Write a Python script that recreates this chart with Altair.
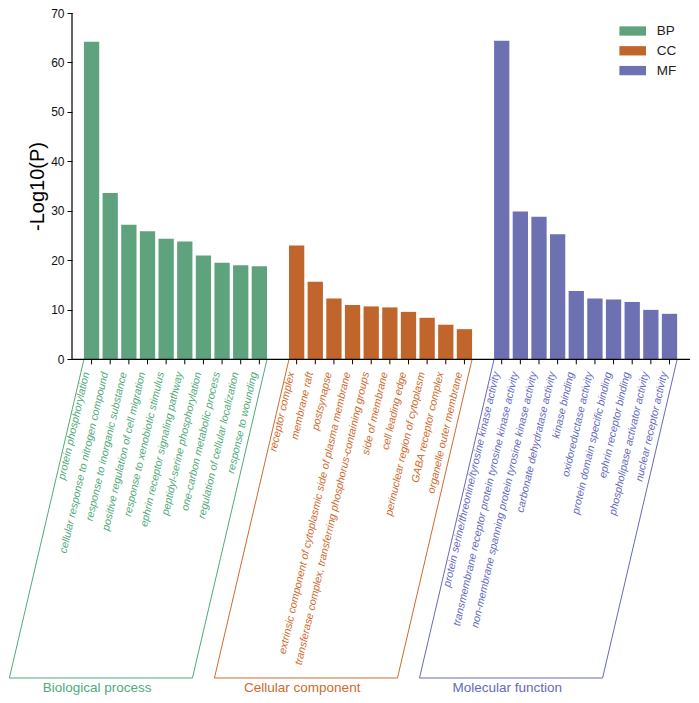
import altair as alt
import pandas as pd

FONT = "Liberation Sans"

groups = ["BP", "CC", "MF"]
group_names = ["Biological process", "Cellular component", "Molecular function"]
bar_colors = ["#5FA37E", "#C0652B", "#6D71B1"]
text_colors = ["#4FAA7B", "#CF6A2E", "#6569BF"]
y_ticks = [0, 10, 20, 30, 40, 50, 60, 70]

bp_terms = [
    "protein phosphorylation",
    "cellular response to nitrogen compound",
    "response to inorganic substance",
    "positive regulation of cell migration",
    "response to xenobiotic stimulus",
    "ephrin receptor signaling pathway",
    "peptidyl-serine phosphorylation",
    "one-carbon metabolic process",
    "regulation of cellular localization",
    "response to wounding",
]
bp_values = [64.2, 33.6, 27.2, 25.9, 24.4, 23.8, 21.0, 19.5, 19.0, 18.8]

cc_terms = [
    "receptor complex",
    "membrane raft",
    "postsynapse",
    "extrinsic component of cytoplasmic side of plasma membrane",
    "transferase complex, transferring phosphorus-containing groups",
    "side of membrane",
    "cell leading edge",
    "perinuclear region of cytoplasm",
    "GABA receptor complex",
    "organelle outer membrane",
]
cc_values = [23.0, 15.7, 12.3, 11.0, 10.7, 10.5, 9.6, 8.4, 7.0, 6.1]

mf_terms = [
    "protein serine/threonine/tyrosine kinase activity",
    "transmembrane receptor protein tyrosine kinase activity",
    "non-membrane spanning protein tyrosine kinase activity",
    "carbonate dehydratase activity",
    "kinase binding",
    "oxidoreductase activity",
    "protein domain specific binding",
    "ephrin receptor binding",
    "phospholipase activator activity",
    "nuclear receptor activity",
]
mf_values = [64.4, 29.9, 28.8, 25.3, 13.8, 12.3, 12.1, 11.6, 10.0, 9.2]

# layout constants
HALF = 0.41      # half bar width in slot units
SLANT = 4.0      # horizontal slant of the label boxes in slot units
YMIN, YMAX = -64.4, 70
XMIN, XMAX = -1.05, 32.1
LABEL_DX = -0.27
LABEL_Y = -2.6
TICK_Y = -1.0

rows, spans = [], []
slot = 0
for g, terms, vals, tc in zip(groups, [bp_terms, cc_terms, mf_terms],
                              [bp_values, cc_values, mf_values], text_colors):
    first = slot
    for t, v in zip(terms, vals):
        rows.append(dict(group=g, term=t, value=v, pos=slot, tcolor=tc,
                         x1=slot - HALF, x2=slot + HALF, zero=0,
                         lx=slot + LABEL_DX, ly=LABEL_Y, ty=TICK_Y))
        slot += 1
    spans.append((first, slot - 1))
    slot += 1
df = pd.DataFrame(rows)

box_rows, name_rows = [], []
for g, name, tc, (a, b) in zip(groups, group_names, text_colors, spans):
    pts = [(a - HALF, 0), (a - HALF - SLANT, YMIN), (b + HALF - SLANT, YMIN), (b + HALF, 0)]
    for i, (px, py) in enumerate(pts):
        box_rows.append(dict(group=g, order=i, bx=px, by=py, lcolor=tc))
    name_rows.append(dict(name=name, cx=(a + b) / 2 - SLANT - 0.2, cy=YMIN, tcolor=tc))
box_df = pd.DataFrame(box_rows)
name_df = pd.DataFrame(name_rows)

axis_df = pd.DataFrame([
    dict(ax1=XMIN, ax2=XMIN, ay1=0, ay2=YMAX),
    dict(ax1=XMIN, ax2=XMAX, ay1=0, ay2=0),
])

xs = alt.Scale(domain=[XMIN, XMAX], nice=False, zero=False)
ys = alt.Scale(domain=[YMIN, YMAX], nice=False, zero=False)

base = alt.Chart(df)

bars = base.mark_bar().encode(
    x=alt.X("x1:Q", scale=xs, axis=None),
    x2="x2:Q",
    y=alt.Y("value:Q", scale=ys, axis=alt.Axis(
        values=y_ticks, domain=False, grid=False, ticks=True, tickSize=5,
        tickColor="black", tickWidth=1, labelFontSize=12, labelColor="#111",
        labelFont=FONT, labelPadding=3, title="-Log10(P)", titleFont=FONT,
        titleFontSize=20, titleFontWeight="normal", titleColor="black",
        titleAngle=270, titleX=-35, titleY=173, titleAlign="center",
        titleBaseline="middle")),
    y2="zero:Q",
    color=alt.Color("group:N", scale=alt.Scale(domain=groups, range=bar_colors),
                    legend=alt.Legend(
                        orient="none", legendX=553.7, legendY=11, title=None,
                        symbolType="M-2,-0.7H2V0.7H-2Z", symbolSize=177,
                        symbolStrokeWidth=0, labelFontSize=13.5, labelFont=FONT,
                        labelColor="#222", labelOffset=17, rowPadding=5.8, padding=0)),
)

ticks = base.mark_rule(color="black", strokeWidth=1).encode(
    x=alt.X("pos:Q", scale=xs), y=alt.Y("zero:Q", scale=ys), y2="ty:Q")

labels = base.mark_text(angle=283, align="right", baseline="middle",
                        fontStyle="italic", fontSize=10.6, font=FONT).encode(
    x=alt.X("lx:Q", scale=xs), y=alt.Y("ly:Q", scale=ys),
    text="term:N", fill=alt.Fill("tcolor:N", scale=None))

axes = alt.Chart(axis_df).mark_rule(color="black", strokeWidth=1.2).encode(
    x=alt.X("ax1:Q", scale=xs), x2="ax2:Q",
    y=alt.Y("ay1:Q", scale=ys), y2="ay2:Q")

boxes = alt.Chart(box_df).mark_line(strokeWidth=1).encode(
    x=alt.X("bx:Q", scale=xs), y=alt.Y("by:Q", scale=ys),
    detail="group:N", order="order:O",
    stroke=alt.Stroke("lcolor:N", scale=None))

names = alt.Chart(name_df).mark_text(baseline="top", dy=3, fontSize=13.5, font=FONT).encode(
    x=alt.X("cx:Q", scale=xs), y=alt.Y("cy:Q", scale=ys),
    text="name:N", fill=alt.Fill("tcolor:N", scale=None))

chart = alt.layer(bars, boxes, axes, ticks, labels, names).properties(
    width=618, height=665,
    autosize=alt.AutoSizeParams(type="none"),
    padding={"left": 64, "top": 5, "right": 1, "bottom": 17},
).configure_view(stroke=None)

chart.save("out.html", embed_options={"renderer": "svg", "actions": False})
